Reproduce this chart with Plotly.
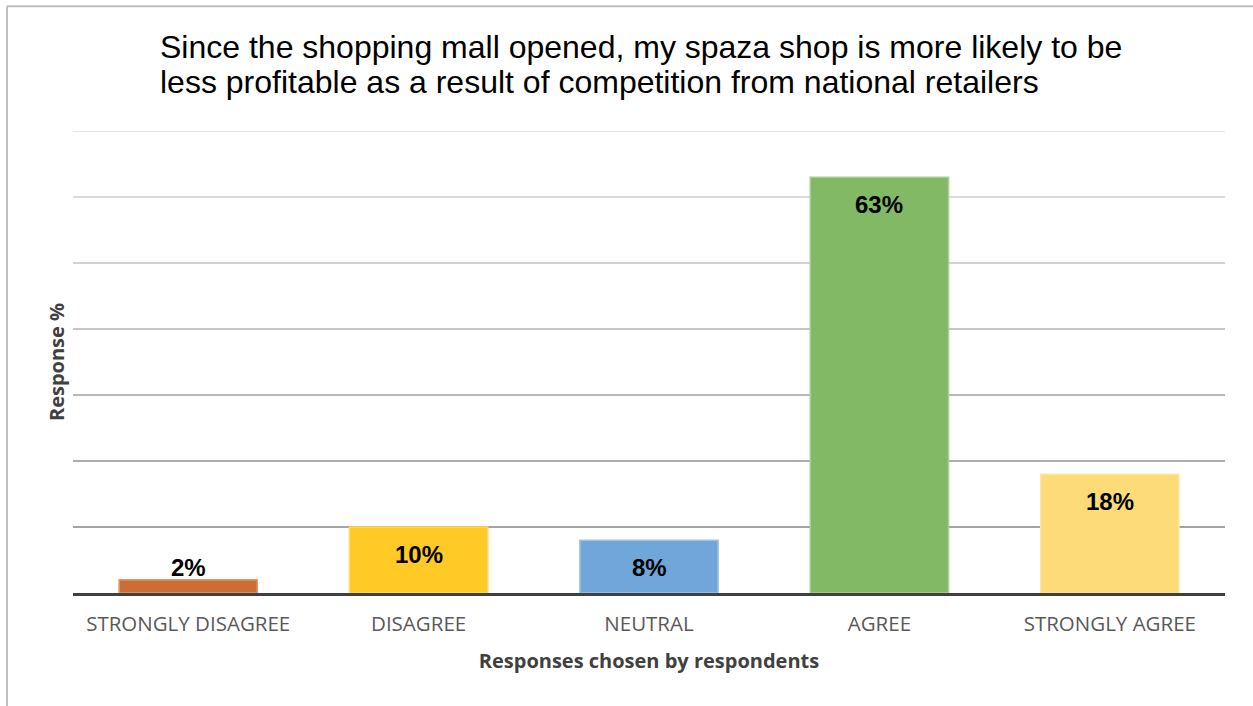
import plotly.graph_objects as go

# Survey responses (share of respondents, %)
categories = ["STRONGLY DISAGREE", "DISAGREE", "NEUTRAL", "AGREE", "STRONGLY AGREE"]
values = [2, 10, 8, 63, 18]
bar_colors = ["#CC6D33", "#FFC926", "#70A6DA", "#82B964", "#FEDB79"]
edge_colors = ["#E29A72", "#FFD75C", "#9EC3E6", "#A6CF91", "#FEE6A0"]
label_inside = [False, True, True, True, True]

grid_levels = [10, 20, 30, 40, 50, 60, 70]
grid_colors = ["#A3A3A3", "#AEAEAE", "#B9B9B9", "#C6C6C6", "#D2D2D2", "#DCDCDC", "#E6E6E6"]

title_lines = [
    "Since the shopping mall opened, my spaza shop is more likely to be",
    "less profitable as a result of competition from national retailers",
]

fig = go.Figure()
fig.add_trace(go.Bar(
    x=categories,
    y=values,
    marker=dict(color=bar_colors, line=dict(color=edge_colors, width=1.5)),
    width=0.6,
    hoverinfo="x+y",
))

# graded horizontal gridlines
for lvl, col in zip(grid_levels, grid_colors):
    fig.add_shape(type="line", xref="paper", yref="y", x0=0, x1=1, y0=lvl, y1=lvl,
                  line=dict(color=col, width=2), layer="below")

# value labels
for cat, v, inside in zip(categories, values, label_inside):
    fig.add_annotation(x=cat, y=v, text=f"<b>{v}%</b>", showarrow=False,
                       yanchor="middle", yshift=-27 if inside else 12,
                       font=dict(family="Liberation Sans, Arial", size=24, color="#000000"))

# two-line chart title
for i, line in enumerate(title_lines):
    fig.add_annotation(xref="paper", yref="paper", x=(158 - 73) / 1152,
                       y=(593 - 47 - 35 * i) / 462, xanchor="left", yanchor="middle",
                       text=line, showarrow=False,
                       font=dict(family="Liberation Sans, Arial", size=32, color="#000000"))

# chart frame (top and left edges)
fig.add_shape(type="line", xref="paper", yref="paper", x0=-0.0573, x1=1.05,
              y0=1.27, y1=1.27, line=dict(color="#BFBFBF", width=2))
fig.add_shape(type="line", xref="paper", yref="paper", x0=-0.0573, x1=-0.0573,
              y0=1.27, y1=-0.3, line=dict(color="#BFBFBF", width=2))

fig.update_layout(
    width=1253, height=706,
    margin=dict(l=73, r=28, t=131, b=113),
    paper_bgcolor="white", plot_bgcolor="white",
    showlegend=False,
    xaxis=dict(
        showline=True, linecolor="#404040", linewidth=3,
        showgrid=False, ticks="", ticklabelstandoff=10,
        tickfont=dict(family="Open Sans", size=20.5, color="#595959"),
        title=dict(text="<b>Responses chosen by respondents</b>", standoff=19,
                   font=dict(family="Open Sans", size=20, color="#404040")),
    ),
    yaxis=dict(
        range=[0, 70], showgrid=False, zeroline=False, showticklabels=False,
        title=dict(text="<b>Response %</b>", standoff=2,
                   font=dict(family="Open Sans", size=20, color="#404040")),
    ),
    bargap=0.4,
)

fig.write_html("out.html")
